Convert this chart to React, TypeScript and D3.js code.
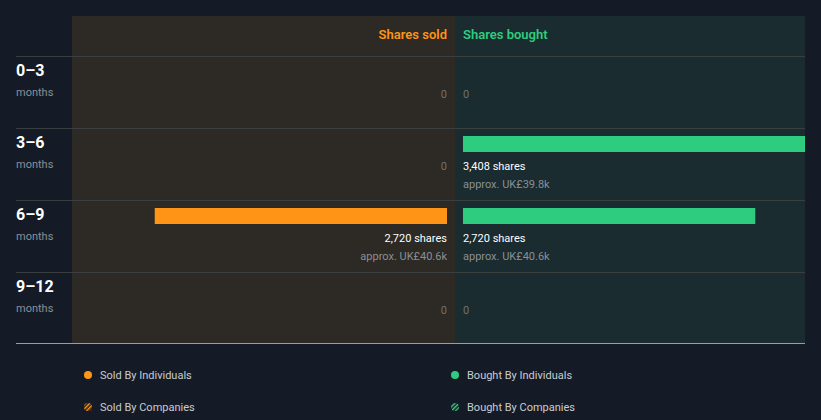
import * as d3 from "d3";

const periods = ["0–3", "3–6", "6–9", "9–12"];
const soldShares = [0, 0, 2720, 0];
const soldValue = ["", "", "UK£40.6k", ""];
const boughtShares = [0, 3408, 2720, 0];
const boughtValue = ["", "UK£39.8k", "UK£40.6k", ""];
const legendItems = [
  { label: "Sold By Individuals", color: "#ff9416", hatch: false },
  { label: "Bought By Individuals", color: "#2ecc7f", hatch: false },
  { label: "Sold By Companies", color: "#ff9416", hatch: true },
  { label: "Bought By Companies", color: "#2ecc7f", hatch: true },
];

const W = 821;
const H = 420;
const FONT = "Roboto, 'Noto Sans', sans-serif";

export default function App() {
  const left = 16;
  const panelLeft = 72;
  const mid = 455;
  const right = 805;
  const top = 16;
  const headerH = 40;
  const rowH = 72;
  const pad = 8;

  const y = d3
    .scaleBand<string>()
    .domain(periods)
    .range([top + headerH, top + headerH + rowH * periods.length]);
  const bottom = y.range()[1] - 1;

  // shared scale, bought bars overflow and get clipped at the panel edge
  const x = d3.scaleLinear().domain([0, 3490]).range([0, mid - pad - panelLeft]);
  const fmt = d3.format(",");

  return (
    <svg width={W} height={H} style={{ display: "block", position: "absolute", left: 0, top: 0, background: "#151b26" }}>
      <defs>
        <clipPath id="boughtClip">
          <rect x={mid} y={top} width={right - mid} height={bottom - top} />
        </clipPath>
        <pattern id="hatchO" width="3" height="3" patternUnits="userSpaceOnUse" patternTransform="rotate(45)">
          <rect width="1.5" height="3" fill="#ff9416" />
        </pattern>
        <pattern id="hatchG" width="3" height="3" patternUnits="userSpaceOnUse" patternTransform="rotate(45)">
          <rect width="1.5" height="3" fill="#2ecc7f" />
        </pattern>
      </defs>
      <rect x={0} y={0} width={W} height={H} fill="#151b26" />
      <rect x={panelLeft} y={top} width={mid - panelLeft} height={bottom - top} fill="#2d2924" />
      <rect x={mid} y={top} width={right - mid} height={bottom - top} fill="#1a2c2f" />

      <text x={mid - pad} y={top + 23} textAnchor="end" fill="#ff9416" fontFamily={FONT} fontSize={13} fontWeight={600}>
        Shares sold
      </text>
      <text x={mid + pad} y={top + 23} fill="#2ecc7f" fontFamily={FONT} fontSize={13} fontWeight={600}>
        Shares bought
      </text>

      {periods.map((p, i) => {
        const y0 = y(p)!;
        return (
          <g key={p}>
            <line x1={left} x2={right} y1={y0 + 0.5} y2={y0 + 0.5} stroke="#3b3f40" />
            <text x={left} y={y0 + 20} fill="#ffffff" fontFamily={FONT} fontSize={16} fontWeight={700}>
              {p}
            </text>
            <text x={left} y={y0 + 40} fill="#8a8f96" fontFamily={FONT} fontSize={11}>
              months
            </text>
            {soldShares[i] === 0 ? (
              <text x={mid - pad} y={y0 + 42} textAnchor="end" fill="#6f7275" fontFamily={FONT} fontSize={11}>
                0
              </text>
            ) : (
              <g>
                <rect x={mid - pad - x(soldShares[i])} y={y0 + 8} width={x(soldShares[i])} height={16} fill="#ff9416" />
                <text x={mid - pad} y={y0 + 42} textAnchor="end" fill="#ffffff" fontFamily={FONT} fontSize={11}>
                  {fmt(soldShares[i])} shares
                </text>
                <text x={mid - pad} y={y0 + 60} textAnchor="end" fill="#8a8f96" fontFamily={FONT} fontSize={11}>
                  approx. {soldValue[i]}
                </text>
              </g>
            )}
            {boughtShares[i] === 0 ? (
              <text x={mid + pad} y={y0 + 42} fill="#6f7275" fontFamily={FONT} fontSize={11}>
                0
              </text>
            ) : (
              <g>
                <rect
                  x={mid + pad}
                  y={y0 + 8}
                  width={x(boughtShares[i])}
                  height={16}
                  fill="#2ecc7f"
                  clipPath="url(#boughtClip)"
                />
                <text x={mid + pad} y={y0 + 42} fill="#ffffff" fontFamily={FONT} fontSize={11}>
                  {fmt(boughtShares[i])} shares
                </text>
                <text x={mid + pad} y={y0 + 60} fill="#8a8f96" fontFamily={FONT} fontSize={11}>
                  approx. {boughtValue[i]}
                </text>
              </g>
            )}
          </g>
        );
      })}
      <line x1={left} x2={right} y1={bottom + 0.5} y2={bottom + 0.5} stroke="#9a9ea3" />

      {legendItems.map((d, i) => {
        const cx = i % 2 === 0 ? 88 : 455;
        const cy = 375 + Math.floor(i / 2) * 32;
        return (
          <g key={d.label}>
            {d.hatch ? (
              <circle cx={cx} cy={cy} r={4} fill={d.color === "#ff9416" ? "url(#hatchO)" : "url(#hatchG)"} />
            ) : (
              <circle cx={cx} cy={cy} r={4} fill={d.color} />
            )}
            <text x={cx + 12} y={cy + 4} fill="#c9ccd1" fontFamily={FONT} fontSize={11}>
              {d.label}
            </text>
          </g>
        );
      })}
    </svg>
  );
}
